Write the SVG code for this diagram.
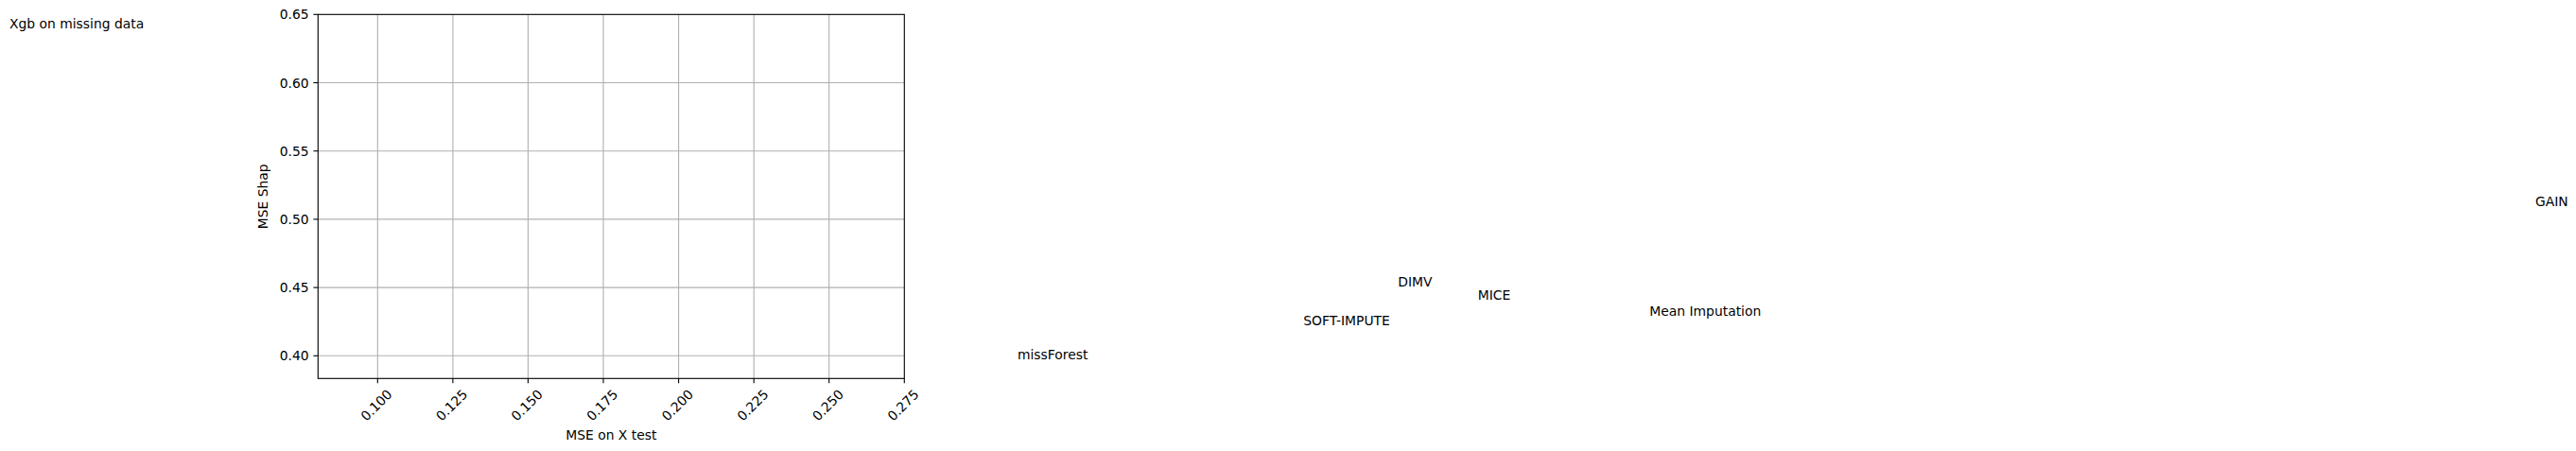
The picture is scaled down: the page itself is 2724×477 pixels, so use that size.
<svg xmlns="http://www.w3.org/2000/svg" width="2724" height="477" viewBox="0 0 2724 477">
<style>
text{font-family:"DejaVu Sans","Liberation Sans",sans-serif;font-size:13.89px;fill:#000}
.grid line{stroke:#b0b0b0;stroke-width:1.11}
.spine{fill:none;stroke:#000;stroke-width:1.11;stroke-linecap:square}
.ticks line{stroke:#000;stroke-width:1.11}
.yt{text-anchor:end}
.xt{text-anchor:middle}
</style>
<rect x="0" y="0" width="2724" height="477" fill="#fff"/>
<g id="title"><text x="10" y="30">Xgb on missing data</text></g>
<g id="axes">
<g class="grid">
<line x1="399.3" y1="15.3" x2="399.3" y2="400.3"/>
<line x1="478.9" y1="15.3" x2="478.9" y2="400.3"/>
<line x1="558.4" y1="15.3" x2="558.4" y2="400.3"/>
<line x1="638.0" y1="15.3" x2="638.0" y2="400.3"/>
<line x1="717.6" y1="15.3" x2="717.6" y2="400.3"/>
<line x1="797.2" y1="15.3" x2="797.2" y2="400.3"/>
<line x1="876.7" y1="15.3" x2="876.7" y2="400.3"/>
<line x1="336.3" y1="376.3" x2="956.3" y2="376.3"/>
<line x1="336.3" y1="304.1" x2="956.3" y2="304.1"/>
<line x1="336.3" y1="231.9" x2="956.3" y2="231.9"/>
<line x1="336.3" y1="159.7" x2="956.3" y2="159.7"/>
<line x1="336.3" y1="87.5" x2="956.3" y2="87.5"/>
</g>
<rect class="spine" x="336.3" y="15.3" width="620" height="385"/>
<g class="ticks">
<line x1="399.3" y1="400.3" x2="399.3" y2="405.2"/>
<line x1="478.9" y1="400.3" x2="478.9" y2="405.2"/>
<line x1="558.4" y1="400.3" x2="558.4" y2="405.2"/>
<line x1="638.0" y1="400.3" x2="638.0" y2="405.2"/>
<line x1="717.6" y1="400.3" x2="717.6" y2="405.2"/>
<line x1="797.2" y1="400.3" x2="797.2" y2="405.2"/>
<line x1="876.7" y1="400.3" x2="876.7" y2="405.2"/>
<line x1="956.3" y1="400.3" x2="956.3" y2="405.2"/>
<line x1="331.4" y1="376.3" x2="336.3" y2="376.3"/>
<line x1="331.4" y1="304.1" x2="336.3" y2="304.1"/>
<line x1="331.4" y1="231.9" x2="336.3" y2="231.9"/>
<line x1="331.4" y1="159.7" x2="336.3" y2="159.7"/>
<line x1="331.4" y1="87.5" x2="336.3" y2="87.5"/>
<line x1="331.4" y1="15.3" x2="336.3" y2="15.3"/>
</g>
<g id="yticklabels">
<text class="yt" x="326.6" y="381.3">0.40</text>
<text class="yt" x="326.6" y="309.1">0.45</text>
<text class="yt" x="326.6" y="236.9">0.50</text>
<text class="yt" x="326.6" y="164.7">0.55</text>
<text class="yt" x="326.6" y="92.5">0.60</text>
<text class="yt" x="326.6" y="20.3">0.65</text>
</g>
<g id="xticklabels">
<text class="xt" transform="translate(398,428.5) rotate(-45)" y="5">0.100</text>
<text class="xt" transform="translate(477.6,428.5) rotate(-45)" y="5">0.125</text>
<text class="xt" transform="translate(557.1,428.5) rotate(-45)" y="5">0.150</text>
<text class="xt" transform="translate(636.7,428.5) rotate(-45)" y="5">0.175</text>
<text class="xt" transform="translate(716.3,428.5) rotate(-45)" y="5">0.200</text>
<text class="xt" transform="translate(795.9,428.5) rotate(-45)" y="5">0.225</text>
<text class="xt" transform="translate(875.4,428.5) rotate(-45)" y="5">0.250</text>
<text class="xt" transform="translate(955,428.5) rotate(-45)" y="5">0.275</text>
</g>
<text id="xlabel" x="646.3" y="465" text-anchor="middle">MSE on X test</text>
<text id="ylabel" transform="translate(283.3,207.8) rotate(-90)" text-anchor="middle">MSE Shap</text>
</g>
<g id="labels">
<g id="missForest"><text x="1076" y="380">missForest</text></g>
<g id="softimpute"><text x="1378.3" y="344.3">SOFT-IMPUTE</text></g>
<g id="dimv"><text x="1478.3" y="303.3">DIMV</text></g>
<g id="mice"><text x="1562.7" y="317.3">MICE</text></g>
<g id="mean"><text x="1744.3" y="333.6">Mean Imputation</text></g>
<g id="gain"><text x="2681" y="218.3">GAIN</text></g>
</g>
<g id="connectors"></g>
</svg>
